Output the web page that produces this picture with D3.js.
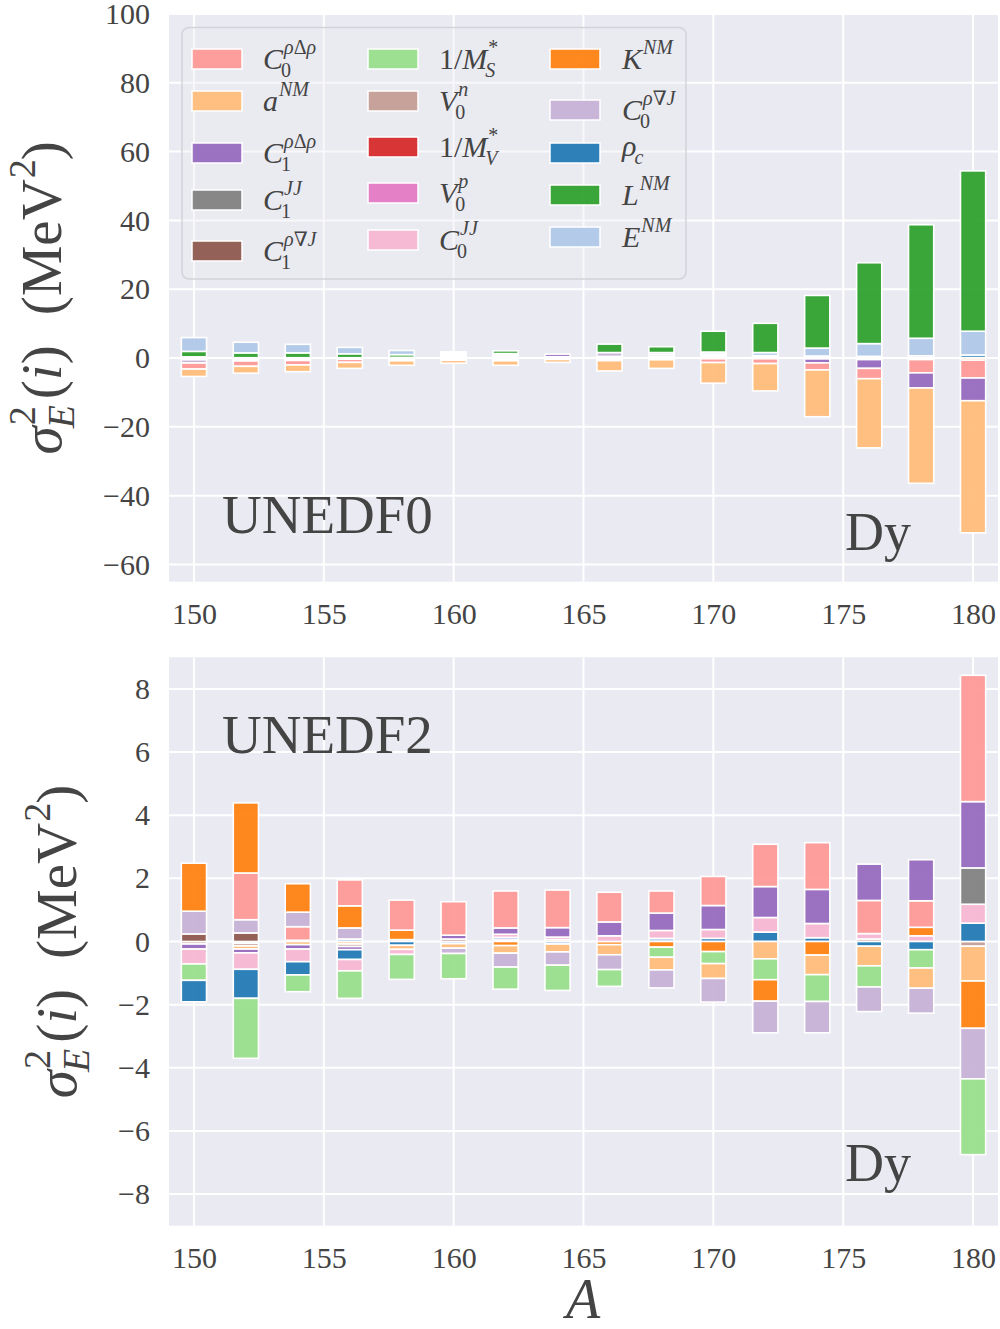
<!DOCTYPE html>
<html><head><meta charset="utf-8">
<script src="https://cdn.jsdelivr.net/npm/d3@7"></script>
<style>
body{margin:0;background:#fff;}
svg{display:block;}
text{font-family:"Liberation Serif","DejaVu Serif",serif;fill:#444;}
</style>
</head><body>
<svg id="chart" width="1000" height="1329"></svg>
<script>
// ---------------- DATA ----------------
const A = [150,152,154,156,158,160,162,164,166,168,170,172,174,176,178,180];

const params = ["C0rDr","aNM","C1rDr","C1JJ","C1rNJ","MSinv","V0n","MVinv","V0p","C0JJ","KNM","C0rNJ","rhoc","LNM","ENM"];
const paramColors = ["#ff9896","#ffbb78","#9467bd","#7f7f7f","#8c564b","#98df8a","#c49c94","#d62728","#e377c2","#f7b6d2","#ff7f0e","#c5b0d5","#1f77b4","#2ca02c","#aec7e8"];

// UNEDF0 contributions (MeV^2), one value per A
const u0_C0rDr = [-1.75,-1.55,-1.3,-0.9,-0.3,0,-0.3,0,-0.25,-0.25,-1.1,-1.4,-2.05,-3.0,-3.85,-5.2];
const u0_aNM   = [-2.15,-2.0,-1.95,-1.75,-1.3,-0.85,-1.3,-0.85,-3.0,-2.5,-6.0,-7.95,-13.6,-20.1,-27.7,-38.4];
const u0_C1rDr = [0,0,0,0,0,0,0,0.75,0,0.5,0,0,-1.15,-2.55,-4.4,-6.6];
const u0_C1JJ  = [-0.25,-0.3,-0.25,-0.2,-0.25,0.3,0.3,0,-0.25,0,0.3,0,0,0,0,0];
const u0_C1rNJ = [0,0,0,0,0,0,0,0,0,0,0,0,0,0,0,0];
const u0_MSinv = [0,0,0,0,0,0,0,0,0,0,0,0,0,0,0,0];
const u0_V0n   = [0.35,0.1,0.1,0.1,0.2,0.3,0.3,0.2,0.25,0.25,0.3,0.35,0.3,0.25,0.15,0.15];
const u0_MVinv = [0,0,0,0,0,0.3,0,0,0,0,0,0,0,0,0,0];
const u0_V0p   = [-0.25,-0.25,-0.2,-0.15,-0.25,0.3,0.3,0,0,0,0.3,0,0,0,0,0];
const u0_C0JJ  = [0,0,0,0,0,0.3,0,0,0,0,0,0,0,0,0,0];
const u0_KNM   = [0,0,0,0,0,-0.3,-0.25,-0.2,-0.25,-0.25,-0.2,-0.2,-0.25,-0.45,-0.45,-0.6];
const u0_C0rNJ = [-0.95,-0.3,-0.25,0,0,-0.35,-0.25,-0.2,1.1,0.55,0.3,0.35,0.3,0.25,0,0];
const u0_rhoc  = [0,0,0,0,0,0,0,0,0,0,0,0,0,0,0.5,0.75];
const u0_LNM   = [1.6,1.4,1.4,1.15,0.8,0,0.8,0,2.45,1.7,6.05,8.5,15.3,23.5,33.0,46.6];
const u0_ENM   = [4.0,3.1,2.5,1.85,1.2,0.3,0.4,0.2,0.25,0.3,0.55,0.9,2.3,3.7,5.1,6.9];

// UNEDF2 contributions (MeV^2), one value per A
const u2_C0rDr = [0,1.48,0.43,0.82,0.95,1.06,1.17,1.19,0.94,0.7,0.92,1.34,1.48,1.05,0.84,4.0];
const u2_aNM   = [0,-0.1,-0.1,-0.08,-0.13,-0.14,-0.24,-0.25,-0.32,-0.4,-0.47,-0.55,-0.62,-0.62,-0.64,-1.1];
const u2_C1rDr = [-0.16,-0.12,-0.14,-0.1,0,0.12,0.2,0.3,0.44,0.55,0.76,0.98,1.08,1.15,1.3,2.1];
const u2_C1JJ  = [0,0,0,0,0,0,0,0,0,0,0,0,0,0,0,1.15];
const u2_C1rNJ = [0.24,0.27,0,0,0,0,0,0,0,0,0,0,0,0,0,0];
const u2_MSinv = [-0.52,-1.9,-0.53,-0.87,-0.79,-0.8,-0.7,-0.8,-0.53,-0.32,-0.38,-0.66,-0.85,-0.67,-0.58,-2.4];
const u2_V0n   = [-0.08,-0.08,0,-0.08,0.06,0.08,0.05,0.06,0,0,0,0,0,0.08,0,-0.15];
const u2_MVinv = [0,0,0,0,0,0,0,0,0,0,0,0,0,0,0,0];
const u2_V0p   = [0,0,0,0,0,0,0,0,0,0,0,0,0,0,0,0];
const u2_C0JJ  = [-0.47,-0.52,-0.4,-0.36,-0.16,0,0.1,0.08,0.18,0.25,0.28,0.46,0.45,0.17,0.18,0.6];
const u2_KNM   = [1.52,2.22,0.9,0.7,0.3,0,-0.13,0,-0.1,-0.18,-0.32,-0.68,-0.43,0,0.27,-1.5];
const u2_C0rNJ = [0.72,0.42,0.46,0.35,0,-0.17,-0.44,-0.42,-0.47,-0.57,-0.75,-1.0,-0.99,-0.78,-0.79,-1.6];
const u2_rhoc  = [-0.68,-0.92,-0.42,-0.31,-0.12,0,0,0,0,0,0.1,0.3,0.12,-0.15,-0.26,0.58];
const u2_LNM   = [0,0,0,0,0,0,0,0,0,0,0,0,0,0,0,0];
const u2_ENM   = [0,-0.06,0.04,0.08,0,-0.07,0.08,-0.08,0,0.1,0,0,0,0,0,0];

const xTicks = [150,155,160,165,170,175,180];
const yTicksTop = [-60,-40,-20,0,20,40,60,80,100];
const yTicksBot = [-8,-6,-4,-2,0,2,4,6,8];

// legend labels: base / sub / sup pieces [text, italic]
const legendLabels = [
  {b:[["C",1]], sub:[["0",0]], sup:[["ρ",1],["Δ",0],["ρ",1]]},
  {b:[["a",1]], sup:[["NM",1]]},
  {b:[["C",1]], sub:[["1",0]], sup:[["ρ",1],["Δ",0],["ρ",1]]},
  {b:[["C",1]], sub:[["1",0]], sup:[["JJ",1]]},
  {b:[["C",1]], sub:[["1",0]], sup:[["ρ",1],["∇",0],["J",1]]},
  {b:[["1/",0],["M",1]], sub:[["S",1]], sup:[["*",0]]},
  {b:[["V",1]], sub:[["0",0]], sup:[["n",1]]},
  {b:[["1/",0],["M",1]], sub:[["V",1]], sup:[["*",0]]},
  {b:[["V",1]], sub:[["0",0]], sup:[["p",1]]},
  {b:[["C",1]], sub:[["0",0]], sup:[["JJ",1]]},
  {b:[["K",1]], sup:[["NM",1]]},
  {b:[["C",1]], sub:[["0",0]], sup:[["ρ",1],["∇",0],["J",1]]},
  {b:[["ρ",1]], sub:[["c",1]]},
  {b:[["L",1]], sup:[["NM",1]]},
  {b:[["E",1]], sup:[["NM",1]]}
];

// ---------------- DRAWING ----------------
const svg = d3.select("#chart");
const X0 = 169, X1 = 998;
const x = d3.scaleLinear().domain([149.04, 180.96]).range([X0, X1]);
const BAR_HALF = 0.485;
const TXT = "#444";

function renderRun(g, pieces, px, py, fs) {
  const t = g.append("text").attr("x", px).attr("y", py).style("font-size", fs + "px");
  pieces.forEach(p => t.append("tspan").text(p[0]).style("font-style", p[1] ? "italic" : "normal"));
  return t.node().getComputedTextLength();
}

// draw base + sub/sup stacked
function drawLabel(g, lab, px, py, fs, ss, opts) {
  opts = opts || {};
  let w = renderRun(g, lab.b, px, py, fs);
  let cx = px + w;
  let mw = 0;
  if (lab.sup) mw = Math.max(mw, renderRun(g, lab.sup, cx + 1, py - (opts.supOff || 0.45 * fs), ss));
  if (lab.sub) mw = Math.max(mw, renderRun(g, lab.sub, cx - (lab.b[lab.b.length-1][1] ? 2 : 0), py + (opts.subOff || 0.22 * fs), ss));
  cx += mw;
  return cx - px;
}

function dataFor(prefix) {
  return prefix === "u0"
    ? [u0_C0rDr,u0_aNM,u0_C1rDr,u0_C1JJ,u0_C1rNJ,u0_MSinv,u0_V0n,u0_MVinv,u0_V0p,u0_C0JJ,u0_KNM,u0_C0rNJ,u0_rhoc,u0_LNM,u0_ENM]
    : [u2_C0rDr,u2_aNM,u2_C1rDr,u2_C1JJ,u2_C1rNJ,u2_MSinv,u2_V0n,u2_MVinv,u2_V0p,u2_C0JJ,u2_KNM,u2_C0rNJ,u2_rhoc,u2_LNM,u2_ENM];
}

function drawPanel(o) {
  const y = d3.scaleLinear().domain(o.domain).range([o.bottom, o.top]);
  const g = svg.append("g");
  g.append("rect").attr("x", X0).attr("y", o.top).attr("width", X1 - X0).attr("height", o.bottom - o.top).attr("fill", "#eaeaf2");
  g.append("g").selectAll("line").data(xTicks).join("line")
    .attr("x1", d => x(d)).attr("x2", d => x(d)).attr("y1", o.top).attr("y2", o.bottom)
    .attr("stroke", "#fff").attr("stroke-width", 2);
  g.append("g").selectAll("line").data(o.yTicks).join("line")
    .attr("x1", X0).attr("x2", X1).attr("y1", d => y(d)).attr("y2", d => y(d))
    .attr("stroke", "#fff").attr("stroke-width", 2);

  // stacked bars: per A, segments sorted by magnitude, positives up, negatives down
  const data = dataFor(o.prefix);
  const segs = [];
  A.forEach((a, i) => {
    const items = params.map((p, k) => ({k, v: data[k][i]})).filter(d => d.v !== 0)
      .sort((p, q) => Math.abs(p.v) - Math.abs(q.v));
    let pos = 0, neg = 0;
    items.forEach(d => {
      let y0, y1;
      if (d.v > 0) { y0 = pos; pos += d.v; y1 = pos; } else { y0 = neg; neg += d.v; y1 = neg; }
      segs.push({a, k: d.k, lo: Math.min(y0, y1), hi: Math.max(y0, y1)});
    });
  });
  g.append("g").selectAll("rect").data(segs).join("rect")
    .attr("x", d => x(d.a - BAR_HALF))
    .attr("width", d => x(d.a + BAR_HALF) - x(d.a - BAR_HALF))
    .attr("y", d => y(d.hi))
    .attr("height", d => y(d.lo) - y(d.hi))
    .attr("fill", d => paramColors[d.k])
    .attr("fill-opacity", 0.93)
    .attr("stroke", "#fff").attr("stroke-width", 1.6);

  // axes
  const ay = g.append("g").attr("transform", `translate(${X0},0)`)
    .call(d3.axisLeft(y).tickValues(o.yTicks).tickSize(0).tickPadding(19).tickFormat(d3.format("d")));
  ay.select(".domain").remove();
  ay.attr("font-family", null).attr("font-size", null);
  ay.selectAll("text").style("font-size", "30px").attr("fill", TXT);
  const ax = g.append("g").attr("transform", `translate(0,${o.bottom})`)
    .call(d3.axisBottom(x).tickValues(xTicks).tickSize(0).tickPadding(21).tickFormat(d3.format("d")));
  ax.select(".domain").remove();
  ax.attr("font-family", null).attr("font-size", null);
  ax.selectAll("text").style("font-size", "30px").attr("fill", TXT);

  // y label
  const lg = g.append("g").attr("transform", `translate(${o.labelX},${(o.top + o.bottom) / 2}) rotate(-90)`);
  const inner = lg.append("g");
  let cx = 0;
  cx += drawLabel(inner, {b:[["σ",1]], sub:[["E",1]], sup:[["2",0]]}, cx, 0, 57, 38, {supOff: 26, subOff: 13});
  cx += 4;
  cx += renderRun(inner, [["(",0],["i",1],[")",0]], cx, 0, 57);
  cx += 30;
  cx += drawLabel(inner, {b:[["(MeV",0]], sup:[["2",0]]}, cx, 0, 57, 38, {supOff: 26});
  cx += renderRun(inner, [[")",0]], cx, 0, 57);
  inner.attr("transform", `translate(${-cx / 2},0)`);

  // annotations
  g.append("text").attr("x", 222).attr("y", o.titleY).style("font-size", "55px").text(o.title);
  g.append("text").attr("x", 845).attr("y", o.dyY).style("font-size", "54px").text("Dy");
  return y;
}

drawPanel({prefix: "u0", top: 14, bottom: 581.7, domain: [-65, 100], yTicks: yTicksTop,
  labelX: 61, title: "UNEDF0", titleY: 533, dyY: 550});
drawPanel({prefix: "u2", top: 657.3, bottom: 1225.7, domain: [-9, 9], yTicks: yTicksBot,
  labelX: 76, title: "UNEDF2", titleY: 753, dyY: 1181});

// x label
svg.append("text").attr("x", 583).attr("y", 1318).attr("text-anchor", "middle")
  .style("font-size", "56px").style("font-style", "italic").text("A");

// legend
{
  const lg = svg.append("g");
  lg.append("rect").attr("x", 182).attr("y", 27.5).attr("width", 504).attr("height", 251.5).attr("rx", 7)
    .attr("fill", "#eaeaf2").attr("fill-opacity", 0.35).attr("stroke", "#d2d2d8").attr("stroke-width", 1.5);
  const patchX = [192, 368, 550];
  const labelX = [263, 439, 622];
  const centers = [[59, 101, 153, 200, 251], [59, 101, 147, 193, 240], [59, 110, 153, 195, 237]];
  params.forEach((p, i) => {
    const c = Math.floor(i / 5), r = i % 5;
    const cy = centers[c][r];
    lg.append("rect").attr("x", patchX[c]).attr("y", cy - 10).attr("width", 50).attr("height", 20)
      .attr("fill", paramColors[i]).attr("fill-opacity", 0.93).attr("stroke", "#fff").attr("stroke-width", 1.5);
    const lab = legendLabels[i];
    const onlySub = lab.sub && !lab.sup;
    const base = cy + (onlySub ? 3 : 10);
    drawLabel(lg, lab, labelX[c], base, 30, 20, {supOff: 15, subOff: 8});
  });
}
</script>
</body></html>
